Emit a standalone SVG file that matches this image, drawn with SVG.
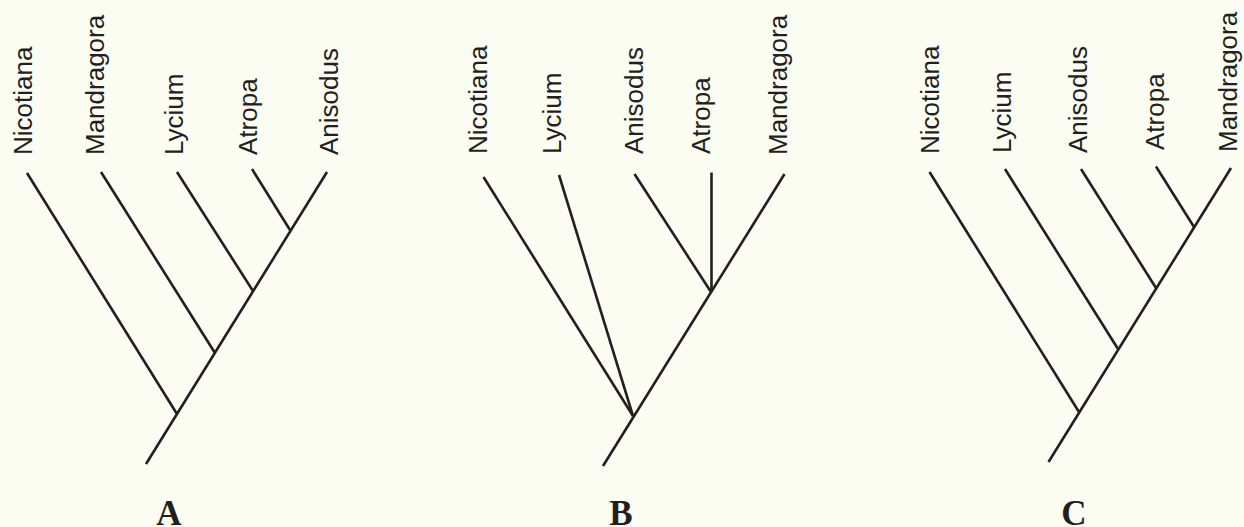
<svg xmlns="http://www.w3.org/2000/svg" width="1244" height="527" viewBox="0 0 1244 527">
<style>
.bg{fill:#fbfcf2}
.e{stroke:#231f20;stroke-width:2.6;stroke-linecap:butt;fill:none}
.lbl{font-family:"Liberation Sans",Arial,sans-serif;font-size:26px;fill:#231f20}
.cap{font-family:"Liberation Serif","Times New Roman",serif;font-size:35px;font-weight:bold;fill:#231f20;text-anchor:middle}
</style>
<rect class="bg" x="0" y="0" width="1244" height="527"/>

<g id="treeA">
  <g id="A-labels">
    <text class="lbl" transform="translate(32,155) rotate(-90)">Nicotiana</text>
    <text class="lbl" transform="translate(104,155) rotate(-90)">Mandragora</text>
    <text class="lbl" transform="translate(182.5,155) rotate(-90)">Lycium</text>
    <text class="lbl" transform="translate(256.5,155) rotate(-90)">Atropa</text>
    <text class="lbl" transform="translate(337.5,155) rotate(-90)">Anisodus</text>
  </g>
  <g id="A-connectors">
    <line class="e" x1="146" y1="464" x2="327" y2="172"/>
    <line class="e" x1="27" y1="173" x2="177" y2="414"/>
    <line class="e" x1="101" y1="172" x2="215" y2="353"/>
    <line class="e" x1="177" y1="172" x2="253" y2="291"/>
    <line class="e" x1="252" y1="169" x2="290" y2="230"/>
  </g>
  <text class="cap" x="169" y="525">A</text>
</g>

<g id="treeB">
  <g id="B-labels">
    <text class="lbl" transform="translate(487,154) rotate(-90)">Nicotiana</text>
    <text class="lbl" transform="translate(561,154) rotate(-90)">Lycium</text>
    <text class="lbl" transform="translate(642.5,154) rotate(-90)">Anisodus</text>
    <text class="lbl" transform="translate(709.5,154) rotate(-90)">Atropa</text>
    <text class="lbl" transform="translate(787,155) rotate(-90)">Mandragora</text>
  </g>
  <g id="B-connectors">
    <line class="e" x1="603" y1="466" x2="784.5" y2="174"/>
    <line class="e" x1="483.5" y1="177" x2="633" y2="416"/>
    <line class="e" x1="559" y1="175" x2="633" y2="416"/>
    <line class="e" x1="634.5" y1="174" x2="711" y2="292"/>
    <line class="e" x1="711.5" y1="172.5" x2="711.5" y2="292"/>
  </g>
  <text class="cap" x="621" y="525">B</text>
</g>

<g id="treeC">
  <g id="C-labels">
    <text class="lbl" transform="translate(939,154) rotate(-90)">Nicotiana</text>
    <text class="lbl" transform="translate(1010.5,153) rotate(-90)">Lycium</text>
    <text class="lbl" transform="translate(1087,153) rotate(-90)">Anisodus</text>
    <text class="lbl" transform="translate(1163.5,150) rotate(-90)">Atropa</text>
    <text class="lbl" transform="translate(1237,152) rotate(-90)">Mandragora</text>
  </g>
  <g id="C-connectors">
    <line class="e" x1="1048.5" y1="462" x2="1231" y2="168"/>
    <line class="e" x1="929.5" y1="172" x2="1079" y2="412"/>
    <line class="e" x1="1005" y1="169" x2="1118" y2="349"/>
    <line class="e" x1="1081" y1="169" x2="1156" y2="288"/>
    <line class="e" x1="1156" y1="166.5" x2="1194" y2="227"/>
  </g>
  <text class="cap" x="1074" y="525">C</text>
</g>
</svg>
